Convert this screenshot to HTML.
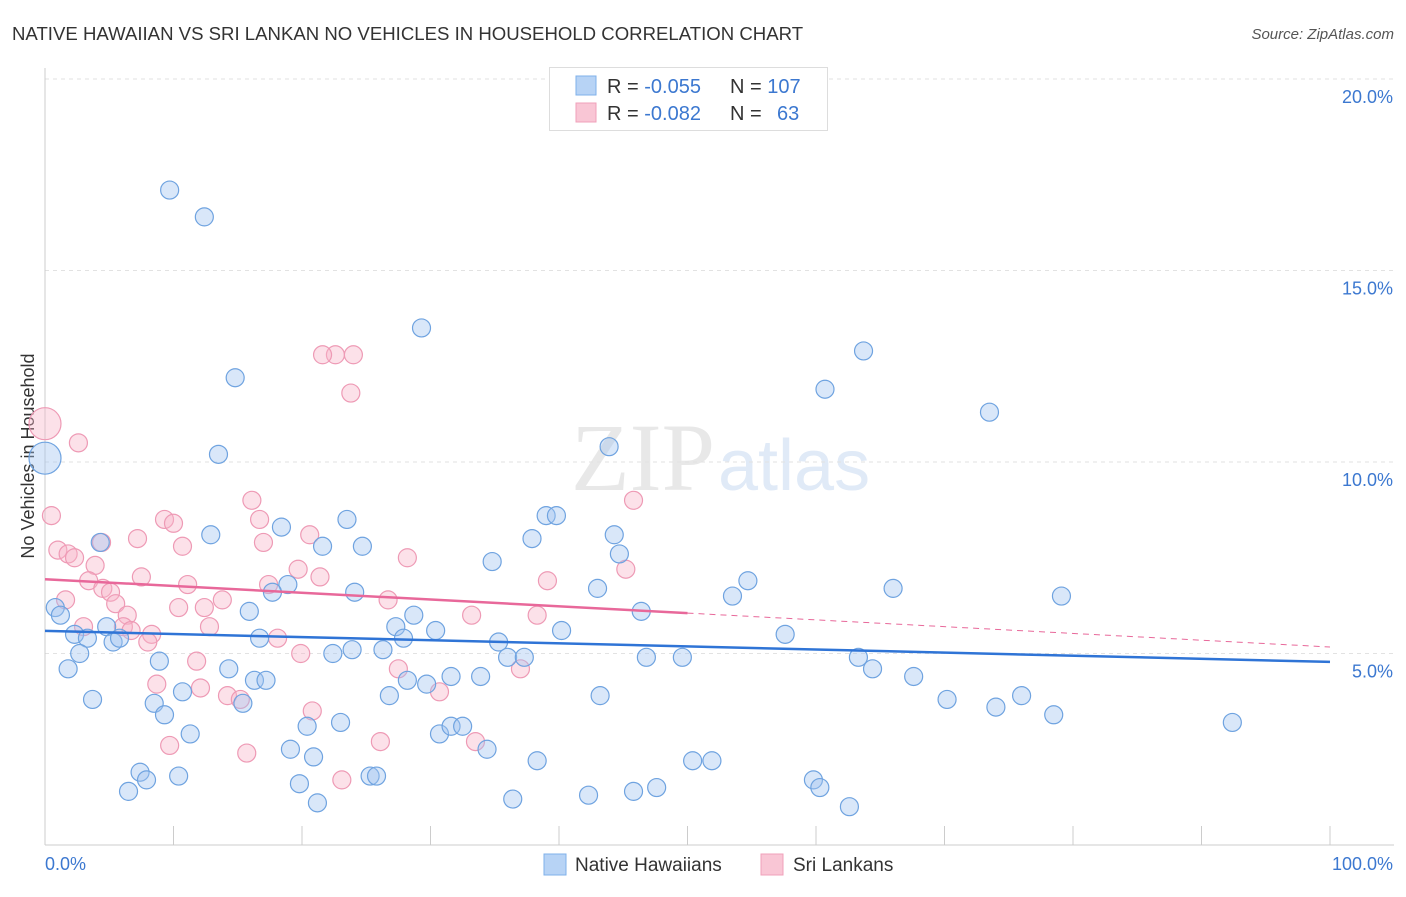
<!DOCTYPE html>
<html><head><meta charset="utf-8"><style>
body{margin:0;background:#fff;font-family:"Liberation Sans",sans-serif;}
svg text{font-family:"Liberation Sans",sans-serif;}
</style></head><body>
<svg id="chart" width="1406" height="892">
<text x="12" y="40" font-size="18.6" fill="#333">NATIVE HAWAIIAN VS SRI LANKAN NO VEHICLES IN HOUSEHOLD CORRELATION CHART</text>
<text x="1394" y="39" font-size="15" fill="#555" font-style="italic" text-anchor="end">Source: ZipAtlas.com</text>
<text x="715" y="490" font-size="96" fill="#e8e8e8" text-anchor="end" style="font-family:'Liberation Serif',serif">ZIP</text>
<text x="718" y="490" font-size="72" fill="#e0eaf7">atlas</text>
<text x="34" y="456" font-size="18" fill="#333" text-anchor="middle" transform="rotate(-90 34 456)">No Vehicles in Household</text>
<g id="grid"></g><g id="pts"></g><g id="lines"></g>
<g>
<rect x="549.5" y="67.5" width="278" height="63" fill="#fff" stroke="#ddd"/>
<rect x="576" y="76" width="20" height="19" fill="#b7d3f5" stroke="#7fb0ea"/>
<rect x="576" y="103" width="20" height="19" fill="#f9c6d5" stroke="#f0a0ba"/>
<text x="607" y="93" font-size="20" fill="#333">R = <tspan fill="#3c78d0">-0.055</tspan><tspan x="730">N = </tspan><tspan fill="#3c78d0">107</tspan></text>
<text x="607" y="120" font-size="20" fill="#333">R = <tspan fill="#3c78d0">-0.082</tspan><tspan x="730">N = </tspan><tspan x="777" fill="#3c78d0">63</tspan></text>
</g>
<g>
<rect x="544" y="854" width="22" height="21" fill="#b7d3f5" stroke="#7fb0ea"/>
<text x="575" y="871" font-size="19" fill="#333">Native Hawaiians</text>
<rect x="761" y="854" width="22" height="21" fill="#f9c6d5" stroke="#f0a0ba"/>
<text x="793" y="871" font-size="19" fill="#333">Sri Lankans</text>
</g>
</svg>
<script>
const yTicks=[5,10,15,20];
const yTickLabels=["5.0%","10.0%","15.0%","20.0%"];
const xTickLabels=["0.0%","100.0%"];
const blueX=[9.7,12.4,29.3,63.7,14.8,60.7,73.5,13.5,43.9,39.0,39.8,23.5,12.9,18.4,37.9,44.3,4.3,21.6,24.7,44.7,34.8,54.7,18.9,43.0,66.0,79.1,0.8,1.2,15.9,17.7,24.1,28.7,46.4,53.5,4.8,2.3,3.3,5.3,5.8,16.7,27.3,27.9,30.4,40.2,57.6,35.3,2.7,22.4,23.9,26.3,36.0,37.3,46.8,49.6,63.3,1.8,8.9,14.3,64.4,67.6,16.3,17.2,28.2,29.7,31.6,33.9,10.7,3.7,8.5,15.4,26.8,43.2,70.2,74.0,76.0,78.5,92.4,9.3,11.3,20.4,23.0,30.7,31.6,32.5,34.4,19.1,20.9,38.3,50.4,51.9,7.4,7.9,10.4,6.5,19.8,25.3,25.8,59.8,60.3,42.3,45.8,47.6,21.2,36.4,62.6,0];
const blueY=[17.1,16.4,13.5,12.9,12.2,11.9,11.3,10.2,10.4,8.6,8.6,8.5,8.1,8.3,8.0,8.1,7.9,7.8,7.8,7.6,7.4,6.9,6.8,6.7,6.7,6.5,6.2,6.0,6.1,6.6,6.6,6.0,6.1,6.5,5.7,5.5,5.4,5.3,5.4,5.4,5.7,5.4,5.6,5.6,5.5,5.3,5.0,5.0,5.1,5.1,4.9,4.9,4.9,4.9,4.9,4.6,4.8,4.6,4.6,4.4,4.3,4.3,4.3,4.2,4.4,4.4,4.0,3.8,3.7,3.7,3.9,3.9,3.8,3.6,3.9,3.4,3.2,3.4,2.9,3.1,3.2,2.9,3.1,3.1,2.5,2.5,2.3,2.2,2.2,2.2,1.9,1.7,1.8,1.4,1.6,1.8,1.8,1.7,1.5,1.3,1.4,1.5,1.1,1.2,1.0,10.1];
const pinkX=[0,2.6,22.6,21.6,24.0,23.8,0.5,16.1,45.8,9.3,10.0,16.7,7.2,20.6,4.4,17.0,1.0,1.8,2.3,10.7,28.2,3.9,19.7,21.4,7.5,39.1,45.2,3.4,11.1,17.4,4.5,5.1,13.8,26.7,1.6,5.5,10.4,12.4,6.4,33.2,38.3,12.8,3.0,6.1,6.7,8.3,8.0,18.1,19.9,11.8,27.5,37.0,8.7,12.1,14.2,15.2,30.7,20.8,9.7,15.7,26.1,33.5,23.1];
const pinkY=[11.0,10.5,12.8,12.8,12.8,11.8,8.6,9.0,9.0,8.5,8.4,8.5,8.0,8.1,7.9,7.9,7.7,7.6,7.5,7.8,7.5,7.3,7.2,7.0,7.0,6.9,7.2,6.9,6.8,6.8,6.7,6.6,6.4,6.4,6.4,6.3,6.2,6.2,6.0,6.0,6.0,5.7,5.7,5.7,5.6,5.5,5.3,5.4,5.0,4.8,4.6,4.6,4.2,4.1,3.9,3.8,4.0,3.5,2.6,2.4,2.7,2.7,1.7];
const blueTrend=[5.59,4.78];
const pinkTrend=[6.94,5.17];
const pinkSolidEnd=50;
const X=v=>45+v*12.85, Y=v=>845-v*38.3;
const NS="http://www.w3.org/2000/svg";
function mk(p,t,a){const e=document.createElementNS(NS,t);for(const k in a)e.setAttribute(k,a[k]);document.getElementById(p).appendChild(e);return e;}
yTicks.forEach((t,i)=>{
 const l=mk('grid','line',{x1:45,x2:1394,y1:Y(t),y2:Y(t),stroke:'#e2e2e2','stroke-dasharray':'4,4'});
 
 
 const tx=mk('grid','text',{x:1393,y:Y(t)+24,'font-size':18,fill:'#3c78d0','text-anchor':'end'});
 tx.textContent=yTickLabels[i];
 
 
});
const ax=mk('grid','line',{x1:45,x2:1394,y1:845,y2:845,stroke:'#ccc'});


const ay=mk('grid','line',{x1:45,x2:45,y1:68,y2:845,stroke:'#ccc'});


for(let i=0;i<=10;i++){const t=mk('grid','line',{x1:X(i*10),x2:X(i*10),y1:826,y2:845,stroke:'#ccc'});
 
 }
[[0,'start',45],[100,'end',1393]].forEach((d,i)=>{const t=mk('grid','text',{x:d[2],y:870,'font-size':18,fill:'#3c78d0','text-anchor':d[1]});t.textContent=xTickLabels[i];
 
 });
function pts(xs,ys,fill,stroke,name){xs.forEach((x,i)=>{const big=(x===0);const c=mk('pts','circle',{cx:X(x),cy:Y(ys[i]),r:big?16:9,fill:fill,stroke:stroke,'stroke-width':1.2});
 
 });}
pts(pinkX,pinkY,'rgba(248,180,200,0.4)','#ee9ab5','sri-lankan-point');
pts(blueX,blueY,'rgba(160,196,240,0.4)','#6fa3e0','native-hawaiian-point');
const bl=mk('lines','line',{x1:X(0),y1:Y(blueTrend[0]),x2:X(100),y2:Y(blueTrend[1]),stroke:'#2f74d6','stroke-width':2.5});


const pm=pinkTrend[0]+(pinkTrend[1]-pinkTrend[0])*pinkSolidEnd/100;
const pl=mk('lines','line',{x1:X(0),y1:Y(pinkTrend[0]),x2:X(pinkSolidEnd),y2:Y(pm),stroke:'#e8689a','stroke-width':2.5});


const pd=mk('lines','line',{x1:X(pinkSolidEnd),y1:Y(pm),x2:X(100),y2:Y(pinkTrend[1]),stroke:'#e8689a','stroke-width':1,'stroke-dasharray':'6,5'});


</script>
</body></html>
